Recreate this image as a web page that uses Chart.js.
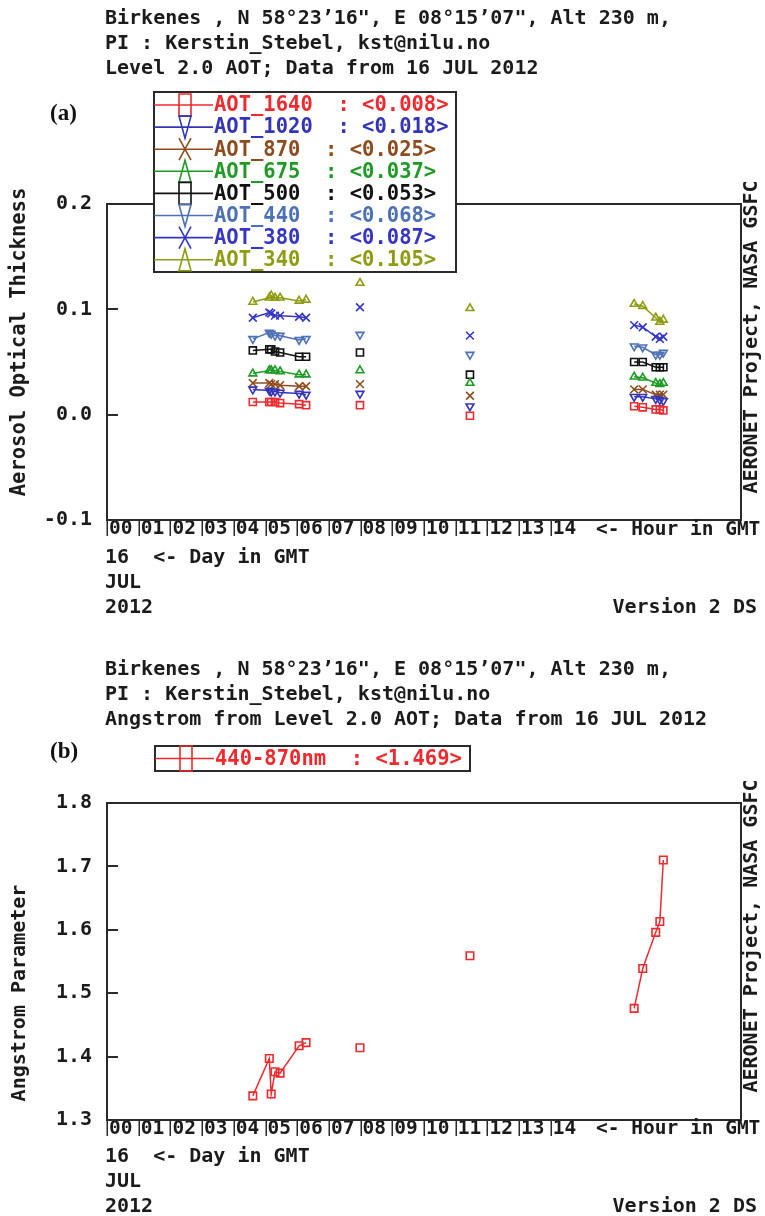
<!DOCTYPE html>
<html>
<head>
<meta charset="utf-8">
<script src="https://cdn.jsdelivr.net/npm/chart.js@4.4.1/dist/chart.umd.min.js"></script>
<style>
  html, body { margin: 0; padding: 0; background: #fff; }
  #page { position: relative; width: 765px; height: 1216px; overflow: hidden; background: #fff; }
  canvas { position: absolute; left: 0; }
  .t { position: absolute; font-family: 'DejaVu Sans Mono', monospace; font-weight: bold;
       font-size: 20px; line-height: 20px; color: #1b1b1b; white-space: pre; }
  .tag { position: absolute; font-family: 'Liberation Serif', serif; font-weight: bold;
         font-size: 23px; line-height: 23px; color: #111; }
  .rot { transform: translate(-50%, -50%) rotate(-90deg); }
  .right { text-align: right; }
  .hr { font-size: 19.5px; }
</style>
</head>
<body>
<div id="page">
  <canvas id="aot" width="765" height="610" style="top:0"></canvas>
  <canvas id="ang" width="765" height="606" style="top:610px"></canvas>

  <!-- panel (a) header -->
  <div class="t" style="left:105px;top:7px">Birkenes , N 58°23’16", E 08°15’07", Alt 230 m,</div>
  <div class="t" style="left:105px;top:32px">PI : Kerstin_Stebel, kst@nilu.no</div>
  <div class="t" style="left:105px;top:57px">Level 2.0 AOT; Data from 16 JUL 2012</div>
  <div class="tag" style="left:50px;top:101px">(a)</div>
  <div class="t rot" style="left:18px;top:342px;font-size:20.5px">Aerosol Optical Thickness</div>
  <div class="t rot" style="left:750px;top:337px">AERONET Project, NASA GSFC</div>
  <div class="t hr" style="left:596px;top:519px">&lt;- Hour in GMT</div>
  <div class="t" style="left:105px;top:546px">16  &lt;- Day in GMT</div>
  <div class="t" style="left:105px;top:571px">JUL</div>
  <div class="t" style="left:105px;top:596px">2012</div>
  <div class="t right" style="right:8px;top:596px">Version 2 DS</div>

  <!-- panel (b) header -->
  <div class="t" style="left:105px;top:658px">Birkenes , N 58°23’16", E 08°15’07", Alt 230 m,</div>
  <div class="t" style="left:105px;top:683px">PI : Kerstin_Stebel, kst@nilu.no</div>
  <div class="t" style="left:105px;top:708px">Angstrom from Level 2.0 AOT; Data from 16 JUL 2012</div>
  <div class="tag" style="left:50px;top:739px">(b)</div>
  <div class="t rot" style="left:18px;top:993px">Angstrom Parameter</div>
  <div class="t rot" style="left:750px;top:936px">AERONET Project, NASA GSFC</div>
  <div class="t hr" style="left:596px;top:1118px">&lt;- Hour in GMT</div>
  <div class="t" style="left:105px;top:1145px">16  &lt;- Day in GMT</div>
  <div class="t" style="left:105px;top:1170px">JUL</div>
  <div class="t" style="left:105px;top:1195px">2012</div>
  <div class="t right" style="right:8px;top:1195px">Version 2 DS</div>
</div>

<script>
// Measurement times on 16 JUL 2012, hours GMT
const hours = [4.60, 5.12, 5.18, 5.30, 5.46, 6.06, 6.28, 7.98, 11.45, 16.63, 16.90, 17.31, 17.44, 17.55];

// Level 2.0 aerosol optical thickness per wavelength
const aot1640 = [0.012, 0.012, 0.012, 0.012, 0.011, 0.010, 0.009, 0.009, -0.001, 0.008, 0.007, 0.005, 0.005, 0.004];
const aot1020 = [0.024, 0.023, 0.022, 0.022, 0.021, 0.020, 0.019, 0.020, 0.008, 0.017, 0.017, 0.015, 0.014, 0.013];
const aot870  = [0.030, 0.030, 0.029, 0.029, 0.028, 0.027, 0.027, 0.029, 0.018, 0.024, 0.024, 0.019, 0.019, 0.019];
const aot675  = [0.039, 0.042, 0.042, 0.042, 0.041, 0.038, 0.038, 0.042, 0.030, 0.036, 0.035, 0.030, 0.029, 0.030];
const aot500  = [0.061, 0.062, 0.062, 0.060, 0.059, 0.055, 0.055, 0.059, 0.038, 0.050, 0.050, 0.045, 0.045, 0.045];
const aot440  = [0.072, 0.078, 0.077, 0.075, 0.075, 0.071, 0.072, 0.076, 0.057, 0.065, 0.064, 0.057, 0.057, 0.059];
const aot380  = [0.092, 0.097, 0.096, 0.094, 0.094, 0.093, 0.092, 0.102, 0.075, 0.085, 0.083, 0.074, 0.072, 0.074];
const aot340  = [0.107, 0.111, 0.113, 0.111, 0.111, 0.108, 0.109, 0.125, 0.101, 0.105, 0.103, 0.092, 0.088, 0.090];

// Angstrom exponent 440-870 nm
const angstrom440870 = [1.338, 1.397, 1.341, 1.376, 1.374, 1.417, 1.422, 1.414, 1.559, 1.476, 1.539, 1.596, 1.613, 1.710];

// Axis ticks
const hourTicks  = [0, 1, 2, 3, 4, 5, 6, 7, 8, 9, 10, 11, 12, 13, 14];
const hourLabels = ['00', '01', '02', '03', '04', '05', '06', '07', '08', '09', '10', '11', '12', '13', '14'];
const aotTicks   = [-0.1, 0.0, 0.1, 0.2];
const angTicks   = [1.3, 1.4, 1.5, 1.6, 1.7, 1.8];

// Consecutive samples further apart than this are not joined
const maxGapHours = 1;

const MONO = 'DejaVu Sans Mono';
const INK = '#1b1b1b';
const FRAME = '#2a2a2a';

const aotSeries = [
  { label: 'AOT_1640', values: aot1640, color: '#ee2a2e', style: 'rect',     rotation: 0,   radius: 5 },
  { label: 'AOT_1020', values: aot1020, color: '#3434b8', style: 'triangle', rotation: 180, radius: 4.5 },
  { label: 'AOT_870',  values: aot870,  color: '#8e4c1e', style: 'crossRot', rotation: 0,   radius: 5.5 },
  { label: 'AOT_675',  values: aot675,  color: '#1f9a26', style: 'triangle', rotation: 0,   radius: 4.5 },
  { label: 'AOT_500',  values: aot500,  color: '#111111', style: 'rect',     rotation: 0,   radius: 5 },
  { label: 'AOT_440',  values: aot440,  color: '#4d70b6', style: 'triangle', rotation: 180, radius: 4.5 },
  { label: 'AOT_380',  values: aot380,  color: '#3636c6', style: 'crossRot', rotation: 0,   radius: 5.5 },
  { label: 'AOT_340',  values: aot340,  color: '#8e9c12', style: 'triangle', rotation: 0,   radius: 4.5 }
];
const angSeries = [
  { label: '440-870nm', values: angstrom440870, color: '#ee2a2e', style: 'rect', rotation: 0, radius: 5.3 }
];

function mean(arr) { return arr.reduce((a, b) => a + b, 0) / arr.length; }

function toDataset(s) {
  return {
    label: s.label,
    data: hours.map((h, i) => ({ x: h, y: s.values[i] })),
    borderColor: s.color,
    backgroundColor: 'rgba(0,0,0,0)',
    borderWidth: 1.5,
    pointStyle: s.style,
    pointRotation: s.rotation,
    pointRadius: s.radius,
    pointBorderWidth: 1.6,
    pointBorderColor: s.color,
    pointBackgroundColor: 'rgba(0,0,0,0)',
    tension: 0,
    segment: {
      borderColor: c => (c.p1.parsed.x - c.p0.parsed.x > maxGapHours ? 'rgba(0,0,0,0)' : undefined)
    },
    legendText: s.label + '  : <' + mean(s.values).toFixed(3) + '>',
    legendStyle: s.style,
    legendRotation: s.rotation
  };
}

// Closed frame around the plotting area, with hour ticks below it
// and value ticks pointing inwards from the left edge
const framePlugin = {
  id: 'frame',
  beforeDatasetsDraw(chart) {
    const { ctx, chartArea: a, scales } = chart;
    ctx.save();
    ctx.strokeStyle = FRAME;
    ctx.lineWidth = 2;
    ctx.strokeRect(a.left, a.top, a.right - a.left, a.bottom - a.top);
    ctx.lineWidth = 1.5;
    ctx.beginPath();
    scales.x.ticks.forEach(t => {
      const px = Math.round(scales.x.getPixelForValue(t.value)) + 0.25;
      ctx.moveTo(px, a.bottom);
      ctx.lineTo(px, a.bottom + 16);
    });
    ctx.stroke();
    ctx.lineWidth = 2;
    ctx.beginPath();
    scales.y.ticks.forEach(t => {
      const py = Math.round(scales.y.getPixelForValue(t.value));
      ctx.moveTo(a.left, py);
      ctx.lineTo(a.left + 11, py);
    });
    ctx.stroke();
    ctx.restore();
  }
};

// Tall legend glyph drawn in a w x h box
function legendGlyph(ctx, style, rotation, cx, cy, w, h) {
  ctx.beginPath();
  if (style === 'rect') {
    ctx.rect(cx - w / 2, cy - h / 2, w, h);
  } else if (style === 'triangle') {
    const dir = rotation === 180 ? -1 : 1;
    ctx.moveTo(cx, cy - dir * h / 2);
    ctx.lineTo(cx + w / 2, cy + dir * h / 2);
    ctx.lineTo(cx - w / 2, cy + dir * h / 2);
    ctx.closePath();
  } else if (style === 'crossRot') {
    ctx.moveTo(cx - w / 2, cy - h / 2); ctx.lineTo(cx + w / 2, cy + h / 2);
    ctx.moveTo(cx + w / 2, cy - h / 2); ctx.lineTo(cx - w / 2, cy + h / 2);
  }
  ctx.stroke();
}

// Boxed legend listing every series with its mean value
const boxLegendPlugin = {
  id: 'boxLegend',
  afterDraw(chart, args, opts) {
    const { ctx } = chart;
    const ds = chart.data.datasets;
    ctx.save();
    ctx.fillStyle = '#fff';
    ctx.fillRect(opts.x, opts.y, opts.w, opts.h);
    ctx.strokeStyle = FRAME;
    ctx.lineWidth = 2;
    ctx.strokeRect(opts.x, opts.y, opts.w, opts.h);
    ctx.font = 'bold 20.5px "' + MONO + '"';
    ctx.textBaseline = 'middle';
    ctx.textAlign = 'left';
    ds.forEach((d, i) => {
      const y = opts.firstRow + i * opts.rowStep;
      ctx.strokeStyle = d.borderColor;
      ctx.lineWidth = 1.6;
      ctx.beginPath();
      ctx.moveTo(opts.x, y);
      ctx.lineTo(opts.textX - 1, y);
      ctx.stroke();
      legendGlyph(ctx, d.legendStyle, d.legendRotation, opts.markX, y, opts.markW, opts.markH);
      ctx.fillStyle = d.borderColor;
      ctx.fillText(d.legendText, opts.textX, y + 1);
    });
    ctx.restore();
  }
};

function xScale() {
  return {
    type: 'linear',
    min: 0,
    max: 20,
    afterBuildTicks: s => { s.ticks = hourTicks.map(v => ({ value: v })); },
    afterFit: s => { s.height = 30; },
    border: { display: false },
    grid: { display: false, drawTicks: false },
    ticks: {
      align: 'start',
      labelOffset: 2,
      autoSkip: false,
      maxRotation: 0,
      padding: -3,
      color: INK,
      font: { family: MONO, weight: 'bold', size: 19.5 },
      callback: (v, i) => hourLabels[i]
    }
  };
}

function yScale(min, max, tickValues) {
  return {
    type: 'linear',
    min: min,
    max: max,
    afterBuildTicks: s => { s.ticks = tickValues.map(v => ({ value: v })); },
    afterFit: s => { s.width = 107; },
    border: { display: false },
    grid: { display: false, drawTicks: false },
    ticks: {
      padding: 15,
      color: INK,
      font: { family: MONO, weight: 'bold', size: 20 },
      callback: v => v.toFixed(1)
    }
  };
}

function baseOptions(padding, yScl, legendOpts) {
  return {
    responsive: false,
    animation: false,
    events: [],
    layout: { padding: padding },
    plugins: { legend: { display: false }, tooltip: { enabled: false }, boxLegend: legendOpts },
    scales: { x: xScale(), y: yScl }
  };
}

new Chart(document.getElementById('aot'), {
  type: 'line',
  data: { datasets: aotSeries.map(toDataset) },
  options: baseOptions(
    { top: 204, right: 24, bottom: 60, left: 0 },
    yScale(-0.1, 0.2, aotTicks),
    { x: 154, y: 92, w: 302, h: 180, firstRow: 105, rowStep: 22.1, markX: 185, markW: 12, markH: 22, textX: 214 }
  ),
  plugins: [framePlugin, boxLegendPlugin]
});

new Chart(document.getElementById('ang'), {
  type: 'line',
  data: { datasets: angSeries.map(toDataset) },
  options: baseOptions(
    { top: 193, right: 24, bottom: 66, left: 0 },
    yScale(1.3, 1.8, angTicks),
    { x: 155, y: 136, w: 315, h: 25, firstRow: 148.5, rowStep: 0, markX: 186, markW: 12, markH: 25, textX: 215 }
  ),
  plugins: [framePlugin, boxLegendPlugin]
});
</script>
</body>
</html>
